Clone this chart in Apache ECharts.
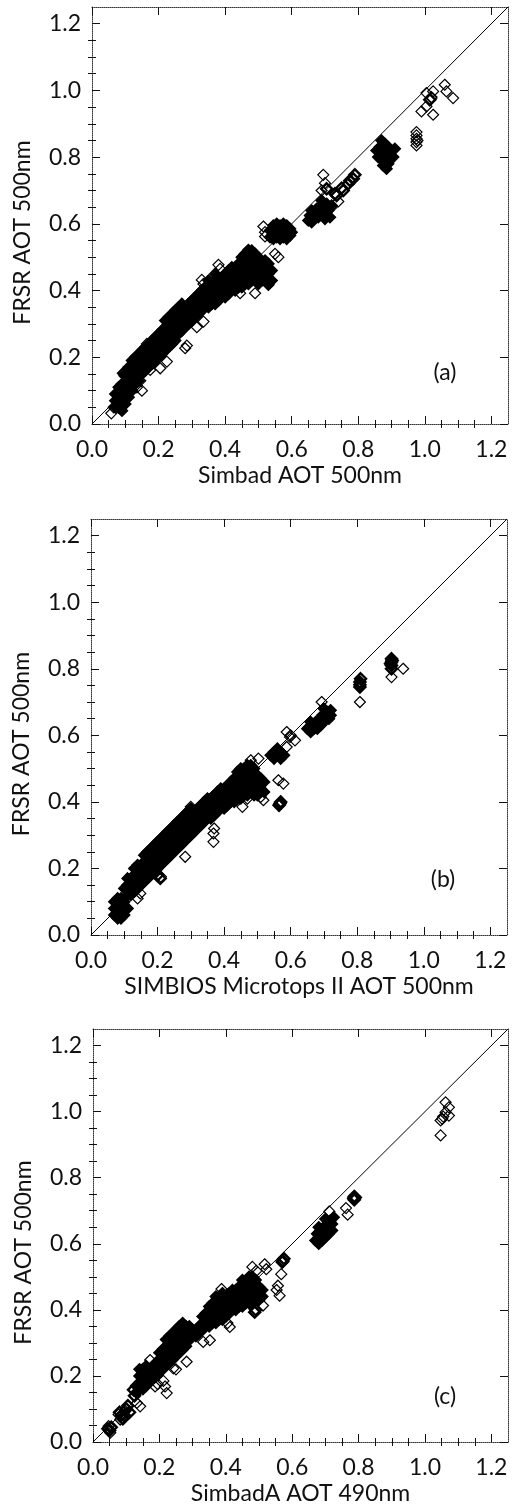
<!DOCTYPE html>
<html>
<head>
<meta charset="utf-8">
<script src="https://cdn.jsdelivr.net/npm/echarts@6/dist/echarts.min.js"></script>
<style>
html,body{margin:0;padding:0;background:#fff;}
#chart{width:515px;height:1506px;}
</style>
</head>
<body>
<div id="chart"></div>
<script>
// ---------- tick labels ----------
const majorTicks = [0.0, 0.2, 0.4, 0.6, 0.8, 1.0, 1.2];
const minorTicks = [0.05,0.1,0.15,0.25,0.3,0.35,0.45,0.5,0.55,0.65,0.7,0.75,0.85,0.9,0.95,1.05,1.1,1.15];
const xNames = ['Simbad AOT 500nm', 'SIMBIOS Microtops II AOT 500nm', 'SimbadA AOT 490nm'];
const yName = 'FRSR AOT 500nm';
const panelTags = ['(a)', '(b)', '(c)'];
const oneToOne = [[0, 0], [1.25, 1.25]];

// ---------- panel (a): dense band, columns of [x, [y...]] ----------
const aBand = [
 [0.07,[0.05,0.07,0.09]],[0.08,[0.05,0.07,0.09,0.11]],[0.09,[0.04,0.06,0.08,0.10,0.12]],
 [0.10,[0.06,0.09,0.12,0.15]],[0.11,[0.08,0.12,0.15,0.17]],[0.12,[0.10,0.14,0.17,0.19]],
 [0.13,[0.12,0.15,0.18,0.20]],[0.14,[0.13,0.16,0.19,0.21]],[0.15,[0.15,0.17,0.20,0.22]],
 [0.16,[0.16,0.19,0.21,0.23]],[0.17,[0.17,0.19,0.22,0.24]],[0.18,[0.18,0.20,0.23,0.25]],
 [0.19,[0.19,0.22,0.24,0.26]],[0.20,[0.20,0.23,0.25,0.27]],[0.21,[0.21,0.24,0.26,0.28]],
 [0.22,[0.22,0.25,0.27,0.29,0.31]],[0.23,[0.23,0.26,0.28,0.30,0.32]],[0.24,[0.24,0.27,0.29,0.31,0.33]],
 [0.25,[0.25,0.28,0.30,0.32,0.34]],[0.26,[0.27,0.29,0.31,0.33,0.35]],[0.27,[0.28,0.30,0.32,0.34,0.36]],
 [0.28,[0.29,0.31,0.33,0.35]],[0.29,[0.30,0.32,0.34,0.36]],[0.30,[0.31,0.33,0.35,0.37]],
 [0.31,[0.32,0.34,0.36,0.38]],[0.32,[0.33,0.35,0.37,0.39]],[0.33,[0.34,0.36,0.38,0.40]],
 [0.34,[0.35,0.37,0.39,0.41]],[0.35,[0.35,0.37,0.39,0.41,0.43]],[0.36,[0.36,0.38,0.40,0.42]],
 [0.37,[0.36,0.39,0.41,0.43,0.45]],[0.38,[0.37,0.39,0.42,0.44]],[0.39,[0.38,0.40,0.42,0.44]],
 [0.40,[0.38,0.41,0.43,0.45]],[0.41,[0.39,0.41,0.44,0.46]],[0.42,[0.40,0.42,0.44,0.47]],
 [0.43,[0.40,0.43,0.45,0.47]],[0.44,[0.41,0.43,0.46,0.48]],[0.45,[0.41,0.44,0.46,0.48,0.50]],
 [0.46,[0.42,0.44,0.47,0.49,0.51]],[0.47,[0.42,0.45,0.47,0.50,0.52]],[0.48,[0.43,0.45,0.48,0.50,0.52]],
 [0.49,[0.43,0.46,0.48,0.51]],[0.50,[0.42,0.45,0.47,0.50]],[0.51,[0.43,0.45,0.48]],[0.52,[0.43,0.46,0.49]],
 [0.53,[0.42,0.45,0.48]],[0.54,[0.43,0.46]],
 [0.535,[0.56,0.58]],[0.545,[0.555,0.575,0.595]],[0.555,[0.56,0.58,0.60]],[0.565,[0.555,0.575,0.595]],
 [0.575,[0.56,0.58,0.60]],[0.585,[0.555,0.575,0.595]],[0.595,[0.565,0.585]],[0.60,[0.575]]
];
const aClusters = [
 [0.65,0.61],[0.655,0.625],[0.66,0.64],[0.665,0.62],[0.67,0.63],[0.675,0.645],[0.68,0.62],[0.685,0.64],
 [0.69,0.655],[0.695,0.63],[0.70,0.645],[0.705,0.66],[0.71,0.64],[0.715,0.62],[0.66,0.605],[0.70,0.615],
 [0.69,0.67],[0.72,0.655],
 [0.855,0.82],[0.86,0.80],[0.865,0.83],[0.87,0.81],[0.875,0.79],[0.88,0.82],[0.88,0.84],[0.885,0.80],
 [0.89,0.78],[0.89,0.83],[0.895,0.81],[0.90,0.82],[0.905,0.80],[0.91,0.825],[0.87,0.85],[0.885,0.765],
 [0.875,0.775],[0.895,0.795]
];
const aBold = [
 [0.73,0.69],[0.75,0.707],[0.77,0.72],[0.79,0.747],[0.735,0.685],[0.755,0.70],[0.775,0.73],[0.785,0.735],
 [0.705,0.705],[0.095,0.152],[0.10,0.145],[1.015,0.972]
];
const aSingles = [
 [0.058,0.032],[0.065,0.05],[0.13,0.12],[0.135,0.11],[0.15,0.10],[0.145,0.13],[0.175,0.162],[0.205,0.167],
 [0.225,0.187],[0.165,0.24],[0.28,0.227],[0.285,0.235],[0.315,0.29],[0.335,0.307],[0.33,0.432],[0.335,0.42],
 [0.38,0.477],[0.385,0.465],[0.445,0.392],[0.49,0.392],[0.53,0.417],[0.52,0.43],[0.47,0.522],[0.515,0.592],
 [0.52,0.575],[0.52,0.562],[0.56,0.50],[0.55,0.51],
 [0.695,0.747],[0.70,0.722],[0.69,0.70],[0.74,0.667],[0.72,0.65],
 [0.975,0.835],[0.975,0.845],[0.975,0.855],[0.975,0.865],[0.975,0.875],[0.978,0.85],
 [0.99,0.937],[1.025,0.927],[1.005,0.992],[1.02,0.977],[1.06,1.017],[1.065,0.997],
 [1.085,0.977],[1.025,0.997],[1.005,0.952],[1.02,0.98]
];

// ---------- panel (b) ----------
const bBand = [
 [0.07,[0.06,0.08,0.10]],[0.08,[0.05,0.07,0.09,0.11]],[0.09,[0.05,0.07,0.09,0.11]],
 [0.10,[0.06,0.08,0.10,0.14]],[0.11,[0.08,0.12,0.15,0.17]],[0.12,[0.12,0.15,0.17]],
 [0.13,[0.13,0.15,0.18,0.20]],[0.14,[0.14,0.16,0.19,0.21]],[0.15,[0.15,0.17,0.19,0.21]],
 [0.16,[0.16,0.18,0.20,0.22,0.24]],[0.17,[0.17,0.19,0.21,0.23,0.25]],[0.18,[0.18,0.20,0.22,0.24,0.26]],
 [0.19,[0.19,0.21,0.23,0.25,0.27]],[0.20,[0.20,0.22,0.24,0.26,0.28]],[0.21,[0.21,0.23,0.25,0.27,0.29]],
 [0.22,[0.22,0.24,0.26,0.28,0.30]],[0.23,[0.23,0.25,0.27,0.29,0.31]],[0.24,[0.24,0.26,0.28,0.30,0.32]],
 [0.25,[0.25,0.27,0.29,0.31,0.33]],[0.26,[0.26,0.28,0.30,0.32,0.34]],[0.27,[0.27,0.29,0.31,0.33,0.35]],
 [0.28,[0.28,0.30,0.32,0.34,0.36]],[0.29,[0.29,0.31,0.33,0.35,0.37]],[0.30,[0.30,0.32,0.34,0.36,0.38]],
 [0.31,[0.31,0.33,0.35,0.37]],[0.32,[0.32,0.34,0.36,0.38]],[0.33,[0.33,0.35,0.37,0.39]],
 [0.34,[0.34,0.36,0.38,0.40]],[0.35,[0.35,0.37,0.39,0.41]],[0.36,[0.35,0.37,0.39,0.41]],
 [0.37,[0.36,0.38,0.40,0.42]],[0.38,[0.37,0.39,0.41,0.43]],[0.39,[0.38,0.40,0.42,0.44]],
 [0.40,[0.38,0.40,0.42,0.44]],[0.41,[0.39,0.41,0.43,0.45]],[0.42,[0.40,0.42,0.44,0.46]],
 [0.43,[0.40,0.42,0.45,0.47]],[0.44,[0.41,0.43,0.45,0.47,0.49]],[0.45,[0.41,0.44,0.46,0.48,0.50]],
 [0.46,[0.42,0.44,0.46,0.48,0.50]],[0.47,[0.42,0.45,0.47,0.49,0.51]],[0.48,[0.43,0.45,0.47,0.49,0.51]],
 [0.49,[0.42,0.44,0.46,0.48,0.50]],[0.50,[0.42,0.44,0.46,0.48]],[0.51,[0.43,0.45,0.47]],[0.52,[0.43,0.46]],
 [0.54,[0.54]],[0.55,[0.53,0.55]],[0.56,[0.54,0.56]],[0.57,[0.53,0.55]],[0.58,[0.54]]
];
const bClusters = [
 [0.65,0.62],[0.66,0.61],[0.665,0.63],[0.67,0.62],[0.675,0.64],[0.68,0.62],[0.685,0.645],[0.69,0.63],
 [0.695,0.66],[0.70,0.64],[0.705,0.655],[0.71,0.67],[0.715,0.65],[0.72,0.66],[0.70,0.68],
 [0.72,0.675],[0.66,0.64]
];
const bBold = [
 [0.568,0.395],[0.57,0.40],[0.565,0.39],
 [0.808,0.76],[0.808,0.745],[0.808,0.752],[0.81,0.77],
 [0.903,0.82],[0.903,0.81],[0.905,0.825],[0.90,0.815],[0.903,0.83],[0.903,0.80],
 [0.208,0.17],[0.20,0.18]
];
const bSingles = [
 [0.14,0.11],[0.148,0.125],[0.21,0.175],[0.283,0.235],[0.368,0.305],[0.368,0.28],
 [0.37,0.32],[0.518,0.405],[0.51,0.415],[0.503,0.53],[0.455,0.385],[0.47,0.41],[0.563,0.465],[0.578,0.455],
 [0.588,0.61],[0.598,0.595],[0.613,0.585],[0.588,0.565],[0.60,0.60],
 [0.365,0.415],[0.30,0.385],[0.48,0.525],[0.693,0.70],
 [0.808,0.70],[0.903,0.775],[0.938,0.80]
];

// ---------- panel (c) ----------
const cBand = [
 [0.13,[0.15,0.17]],[0.14,[0.16,0.18,0.20,0.22]],[0.15,[0.16,0.18,0.20,0.22]],[0.16,[0.17,0.19,0.21,0.23]],
 [0.17,[0.18,0.20,0.22]],[0.18,[0.19,0.21,0.23]],[0.19,[0.20,0.22,0.24]],[0.20,[0.21,0.23,0.25,0.27]],
 [0.21,[0.22,0.24,0.26,0.28]],[0.22,[0.23,0.25,0.27,0.29,0.31]],[0.23,[0.24,0.26,0.28,0.30,0.32]],
 [0.24,[0.25,0.27,0.29,0.31,0.33]],[0.25,[0.26,0.28,0.30,0.32,0.34]],[0.26,[0.27,0.29,0.31,0.33,0.35]],
 [0.27,[0.28,0.30,0.32,0.34,0.36]],[0.28,[0.29,0.31,0.33,0.35]],[0.29,[0.31,0.33,0.35]],[0.30,[0.32,0.34]],
 [0.31,[0.32,0.34]],[0.32,[0.33,0.35]],[0.33,[0.34,0.36,0.38]],[0.34,[0.35,0.37,0.39]],
 [0.35,[0.35,0.37,0.39,0.41]],[0.36,[0.36,0.38,0.40,0.42]],[0.37,[0.36,0.38,0.40,0.42,0.44]],
 [0.38,[0.37,0.39,0.41,0.43]],[0.39,[0.37,0.39,0.41,0.43,0.45]],[0.40,[0.38,0.40,0.42,0.44]],
 [0.41,[0.39,0.41,0.43,0.45]],[0.42,[0.40,0.42,0.44,0.46]],[0.43,[0.40,0.42,0.44,0.46]],
 [0.44,[0.41,0.43,0.45,0.47]],[0.45,[0.41,0.43,0.45,0.47,0.49]],[0.46,[0.42,0.44,0.46,0.48]],
 [0.47,[0.42,0.44,0.46,0.48,0.50]],[0.48,[0.42,0.44,0.46,0.48,0.50]],[0.49,[0.43,0.45,0.47,0.49]],
 [0.50,[0.43,0.45,0.47]],[0.51,[0.44,0.46]]
];
const cClusters = [
 [0.67,0.61],[0.675,0.63],[0.68,0.60],[0.68,0.62],[0.685,0.64],[0.69,0.61],[0.69,0.63],[0.695,0.65],
 [0.70,0.62],[0.70,0.64],[0.705,0.66],[0.71,0.63],[0.71,0.65],[0.715,0.67],[0.72,0.64],[0.72,0.66],
 [0.725,0.68],[0.68,0.65],[0.70,0.675]
];
const cBold = [
 [0.045,0.04],[0.05,0.035],[0.055,0.045],[0.085,0.08],[0.09,0.07],[0.08,0.09],[0.095,0.08],[0.10,0.10],
 [0.105,0.11],[0.11,0.09],[0.122,0.158],[0.125,0.14],
 [0.787,0.733],[0.787,0.743],[0.785,0.738],[0.79,0.74],[0.572,0.548],[0.575,0.555],[0.57,0.545],
 [0.487,0.393],[0.49,0.40]
];
const cSingles = [
 [0.047,0.048],[0.052,0.028],[0.077,0.083],[0.082,0.068],[0.097,0.093],[0.132,0.118],[0.142,0.108],
 [0.172,0.248],[0.187,0.168],[0.195,0.175],[0.222,0.148],[0.217,0.168],[0.212,0.185],[0.282,0.243],
 [0.242,0.223],[0.25,0.22],[0.332,0.303],[0.352,0.308],[0.387,0.463],[0.39,0.45],[0.412,0.348],[0.405,0.36],
 [0.492,0.518],[0.517,0.538],[0.522,0.523],[0.512,0.413],[0.567,0.508],
 [0.557,0.473],[0.553,0.46],[0.562,0.443],[0.48,0.53],[0.712,0.698],
 [0.762,0.708],[0.767,0.688],
 [1.062,1.028],[1.072,1.013],[1.072,0.988],[1.047,0.973],[1.052,0.978],[1.047,0.928],[1.062,0.998],[1.055,0.985]
];

// ---------- build ----------
function flattenCols(cols) {
  const out = [];
  cols.forEach(c => c[1].forEach(y => out.push([c[0], y])));
  return out;
}
const solidData = [
  flattenCols(aBand).concat(aClusters),
  flattenCols(bBand).concat(bClusters),
  flattenCols(cBand).concat(cClusters)
];
const boldData = [aBold, bBold, cBold];
const singleData = [aSingles, bSingles, cSingles];

const FONT = 'Lato';
const FS = 23;
const INK = '#111';
const grids = [
  {left: 92, top: 7, width: 416, height: 417},
  {left: 91, top: 519, width: 416, height: 416},
  {left: 93, top: 1029, width: 415, height: 415}
];
const tagPos = [[445, 373], [443, 880], [445, 1397]];

const frameLine = {show: true, onZero: false, lineStyle: {color: '#333', width: 1, type: [1, 1]}};
function axisSet(dim, gi, name) {
  const isX = dim === 'x';
  const main = {
    type: 'value', gridIndex: gi, min: 0, max: 1.25,
    position: isX ? 'bottom' : 'left',
    name: name, nameLocation: 'middle', nameGap: isX ? 40 : 58,
    nameTextStyle: {fontSize: FS, color: INK, fontFamily: FONT, padding: isX ? 0 : [0, 34, 0, 0]},
    axisLine: frameLine,
    axisTick: {show: true, inside: true, length: 8, customValues: majorTicks, lineStyle: {color: INK}},
    axisLabel: {show: true, customValues: majorTicks, formatter: v => v.toFixed(1), margin: isX ? 14 : 11,
                fontSize: FS, color: INK, fontFamily: FONT},
    splitLine: {show: false}
  };
  const minor = {
    type: 'value', gridIndex: gi, min: 0, max: 1.25, position: isX ? 'bottom' : 'left',
    axisLine: {show: false},
    axisTick: {show: true, inside: true, length: 4, customValues: minorTicks, lineStyle: {color: INK}},
    axisLabel: {show: false}, splitLine: {show: false}
  };
  const oppMain = {
    type: 'value', gridIndex: gi, min: 0, max: 1.25, position: isX ? 'top' : 'right',
    axisLine: frameLine,
    axisTick: {show: true, inside: true, length: 8, customValues: majorTicks, lineStyle: {color: INK}},
    axisLabel: {show: false}, splitLine: {show: false}
  };
  const oppMinor = {
    type: 'value', gridIndex: gi, min: 0, max: 1.25, position: isX ? 'top' : 'right',
    axisLine: {show: false},
    axisTick: {show: true, inside: true, length: 4, customValues: minorTicks, lineStyle: {color: INK}},
    axisLabel: {show: false}, splitLine: {show: false}
  };
  return [main, minor, oppMain, oppMinor];
}

const xAxis = [], yAxis = [], series = [], graphic = [];
for (let i = 0; i < 3; i++) {
  xAxis.push(...axisSet('x', i, xNames[i]));
  yAxis.push(...axisSet('y', i, yName));
  series.push({
    type: 'line', xAxisIndex: i * 4, yAxisIndex: i * 4, data: oneToOne,
    symbol: 'none', lineStyle: {color: '#000', width: 1}, silent: true, z: 1
  });
  series.push({
    type: 'scatter', xAxisIndex: i * 4, yAxisIndex: i * 4, data: solidData[i],
    symbol: 'diamond', symbolSize: 11,
    itemStyle: {color: '#000', borderColor: '#000', borderWidth: 1.5, opacity: 1},
    silent: true, z: 2
  });
  series.push({
    type: 'scatter', xAxisIndex: i * 4, yAxisIndex: i * 4, data: boldData[i],
    symbol: 'diamond', symbolSize: 11,
    itemStyle: {color: 'transparent', borderColor: '#000', borderWidth: 2.4, opacity: 1},
    silent: true, z: 3
  });
  series.push({
    type: 'scatter', xAxisIndex: i * 4, yAxisIndex: i * 4, data: singleData[i],
    symbol: 'diamond', symbolSize: 11,
    itemStyle: {color: 'transparent', borderColor: '#000', borderWidth: 1.2, opacity: 1},
    silent: true, z: 3
  });
  graphic.push({
    type: 'text', x: tagPos[i][0], y: tagPos[i][1],
    style: {text: panelTags[i], fill: INK, font: FS + 'px ' + FONT, align: 'center', verticalAlign: 'middle'}
  });
}

const chart = echarts.init(document.getElementById('chart'), null, {renderer: 'canvas'});
chart.setOption({
  animation: false,
  backgroundColor: '#fff',
  grid: grids.map(g => Object.assign({containLabel: false}, g)),
  xAxis: xAxis, yAxis: yAxis, series: series, graphic: graphic
});
</script>
</body>
</html>
